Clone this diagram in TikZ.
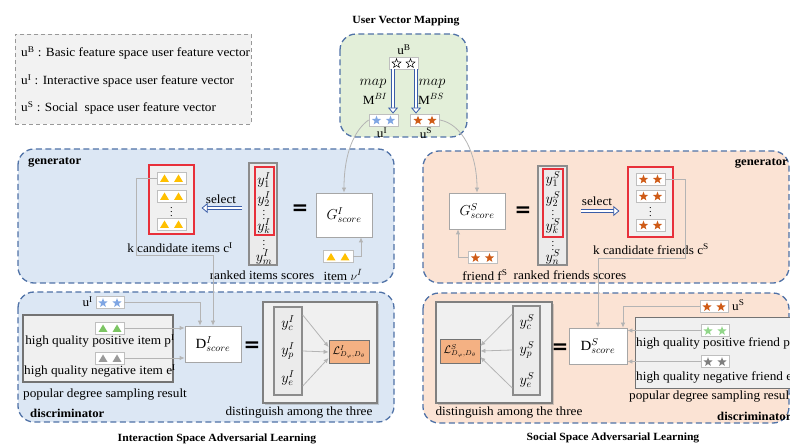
\documentclass[tikz,border=0pt]{standalone}
\usepackage{fontspec}
\setmainfont[FakeStretch=1.06]{Liberation Serif}
\newfontfamily\symfont{DejaVu Sans}
\usetikzlibrary{arrows.meta,calc,shadows}

\definecolor{frameblue}{HTML}{5072A7}
\definecolor{ifill}{HTML}{DCE7F4}
\definecolor{sfill}{HTML}{FBE3D4}
\definecolor{mfill}{HTML}{E3EFD9}
\definecolor{arrowblue}{HTML}{3A5DA8}
\definecolor{candred}{HTML}{E8303A}
\definecolor{starblue}{HTML}{7FA6E3}
\definecolor{starorange}{HTML}{CF5B17}
\definecolor{stargreen}{HTML}{92D68A}
\definecolor{stargray}{HTML}{7F7F7F}
\definecolor{triyellow}{HTML}{FFC000}
\definecolor{trigreen}{HTML}{7CC563}
\definecolor{trigray}{HTML}{9A9A9A}
\definecolor{lossfill}{HTML}{F4B183}
\definecolor{linkgray}{HTML}{B4B4B4}

\tikzset{
  every node/.style={font=\fontsize{12.5}{14}\selectfont, inner sep=0pt},
  region/.style={draw=frameblue, line width=1.3pt, dash pattern=on 6pt off 3.5pt, rounded corners=16pt},
  legendbox/.style={draw=black!40, line width=0.9pt, dash pattern=on 4pt off 3pt, fill=black!5},
  title/.style={font=\fontsize{11}{13}\selectfont\bfseries},
  tag/.style={font=\fontsize{12}{14}\selectfont\bfseries},
  mathlbl/.style={font=\fontsize{14}{16}\selectfont},
  itembox/.style={draw=black!25, fill=white, minimum height=12pt, line width=0.8pt},
  candbox/.style={draw=candred, fill=black!6, line width=1.2pt},
  scorebox/.style={draw=black!45, fill=black!8, line width=1.5pt},
  redbox/.style={draw=candred, line width=1.1pt},
  funcbox/.style={draw=black!35, fill=white, line width=0.8pt, font=\fontsize{14}{16}\selectfont},
  sampbox/.style={draw=black!55, fill=black!6, line width=1.3pt},
  panel/.style={draw=black!50, fill=black!6, line width=1.2pt,
    drop shadow={shadow xshift=2pt, shadow yshift=-2pt, opacity=0.35}},
  lossbox/.style={draw=black!55, fill=lossfill, line width=0.8pt},
  link/.style={draw=linkgray, line width=0.8pt, -{Latex[length=5pt,width=4.5pt]}},
  hollowarrow/.style={draw=arrowblue, double=white, double distance=2.8pt, line width=0.8pt,
    -{Triangle[open,length=6pt,width=10pt,fill=white]}},
  eqsign/.style={font=\symfont\bfseries\fontsize{20}{20}\selectfont},
  dotsfont/.style={font=\fontsize{10}{10}\selectfont},
  starmark/.pic={\path[pic actions] (0,-4.8) -- (1.176,-1.618) -- (4.565,-1.483) -- (1.902,0.618)
      -- (2.821,3.883) -- (0,2) -- (-2.821,3.883) -- (-1.902,0.618) -- (-4.565,-1.483)
      -- (-1.176,-1.618) -- cycle;},
  trimark/.pic={\path[pic actions] (0,-4) -- (4.5,3.5) -- (-4.5,3.5) -- cycle;},
}

% a small white box holding two marks (stars or triangles)
\newcommand\markbox[5]{%
  \node[itembox, minimum width=#3] (#1) at #2 {};
  \pic[#5] at ($(#1.center)+(-7,0.5)$) {#4};
  \pic[#5] at ($(#1.center)+(7,0.5)$) {#4};
}

\begin{document}
\begin{tikzpicture}[x=1pt, y=-1pt]
\useasboundingbox (0,0) rectangle (790,446);

% ---------------- legend ----------------
\node[legendbox, minimum width=236, minimum height=90, anchor=north west] (legend) at (15,34) {};
\node[anchor=west] (lgB) at (21,53) {u\textsuperscript{B} : Basic feature space user feature vector};
\node[anchor=west] (lgI) at (21,81) {u\textsuperscript{I} : Interactive space user feature vector};
\node[anchor=west] (lgS) at (21,108) {u\textsuperscript{S} : Social\ \ space user feature vector};

% ---------------- background regions ----------------
\path[region, fill=mfill] (340,34) rectangle (467,137);
\path[region, fill=ifill] (18,149) rectangle (394,283);
\path[region, fill=ifill] (18,292) rectangle (394,422);
\path[region, fill=sfill] (423,151) rectangle (789,283);
\path[region, fill=sfill] (423,293) rectangle (789,423);

% ---------------- user vector mapping ----------------
\node[title] (tMap) at (406,21) {User Vector Mapping};
\node (lbB) at (404,50) {u\textsuperscript{B}};
\markbox{uB}{(403.5,63)}{29pt}{starmark}{draw=black, line width=0.5pt, fill=white}
\markbox{uI}{(383.5,120)}{29pt}{starmark}{fill=starblue}
\markbox{uS}{(425,120)}{29pt}{starmark}{fill=starorange}
\node (lbI) at (382,133) {u\textsuperscript{I}};
\node (lbS) at (426,133) {u\textsuperscript{S}};
\coordinate (mapL) at ($(uB.south)+(-10.5,0)$);
\coordinate (mapR) at ($(uB.south)+(12.5,0)$);
\draw[hollowarrow] (mapL) -- (mapL |- uI.north);
\draw[hollowarrow] (mapR) -- (mapR |- uS.north);
\node[mathlbl] (mapBI) at (373,84) {$map$};
\node (MBI) at (375,99) {M$^{BI}$};
\node[mathlbl] (mapBS) at (432,84) {$map$};
\node (MBS) at (431,99) {M$^{BS}$};

% ---------------- interaction space: generator ----------------
\node[tag, anchor=west] (genI) at (28,162) {generator};
\node[candbox, minimum width=45, minimum height=69] (candI) at (171.5,199.5) {};
\markbox{ci1}{(171.5,178)}{29pt}{trimark}{fill=triyellow}
\markbox{ci2}{(171.5,196)}{29pt}{trimark}{fill=triyellow}
\node[dotsfont] (ciDots) at (171.5,209) {$\vdots$};
\markbox{ci3}{(171.5,224)}{29pt}{trimark}{fill=triyellow}
\node (lbCI) at (180,248) {k candidate items c\textsuperscript{I}};

\node[scorebox, minimum width=28, minimum height=102] (scI) at (263,214) {};
\node[redbox, minimum width=19, minimum height=68] (rkI) at (264.5,201) {};
\node[mathlbl] (y1I) at (264,180) {$y^{I}_{1}$};
\node[mathlbl] (y2I) at (264,199) {$y^{I}_{2}$};
\node[dotsfont] (ydI) at (264,212) {$\vdots$};
\node[mathlbl] (ykI) at (264,226) {$y^{I}_{k}$};
\node[dotsfont] (ydI2) at (264,242) {$\vdots$};
\node[mathlbl] (ymI) at (264,257) {$y^{I}_{m}$};
\node (lbRI) at (262,275) {ranked items scores};

\node (selI) at (221,199) {select};
\coordinate (selIfrom) at ($(scI.west)+(-6,-6)$);
\draw[hollowarrow, shorten >=7pt] (selIfrom) -- (selIfrom -| candI.east);

\node[eqsign] (eqGI) at (300,210) {=};
\node[funcbox, minimum width=56, minimum height=44] (GI) at (344,215) {$G^{I}_{score}$};
\markbox{vI}{(338,256.5)}{30pt}{trimark}{fill=triyellow}
\node (lbVI) at (343,275) {item $\nu^{I}$};
\draw[link] (vI.east) -| ($(GI.south)+(17,0)$);
\draw[link] (uI.west) .. controls +(-14,10) and +(0,-40) .. (GI.north);

% ---------------- interaction space: discriminator ----------------
\node[tag, anchor=west] (discI) at (30,413) {discriminator};
\markbox{uI2}{(110,302.5)}{28pt}{starmark}{fill=starblue}
\node[anchor=east] (lbUI2) at (93,302) {u\textsuperscript{I}};
\node[sampbox, minimum width=150, minimum height=67] (sampI) at (98,348.5) {};
\markbox{pI}{(110,328)}{29pt}{trimark}{fill=trigreen}
\node (lbPI) at (100,341) {high quality positive item p\textsuperscript{I}};
\markbox{eI}{(110,358)}{29pt}{trimark}{fill=trigray}
\node (lbEI) at (100,371) {high quality negative item e\textsuperscript{I}};
\node (lbSampI) at (105,395) {popular degree sampling result};

\node[funcbox, minimum width=56, minimum height=36] (DI) at (213,344) {D$^{I}_{score}$};
\draw[link] (uI2.east) -| ($(DI.north)+(-13,0)$);
\draw[link] (ci1.west) -| ($(ci1.west)+(-20,77)$) -| (DI.north);
\draw[link] (pI.east) -- (pI.east -| DI.west);
\draw[link] (eI.east) -- (eI.east -| DI.west);

\node[eqsign] (eqDI) at (252,347) {=};
\node[panel, minimum width=114, minimum height=101] (pnI) at (320,352.5) {};
\node[scorebox, minimum width=28, minimum height=88] (trI) at (288,351) {};
\node[mathlbl] (ycI) at (288,323) {$y^{I}_{c}$};
\node[mathlbl] (ypI) at (288,351) {$y^{I}_{p}$};
\node[mathlbl] (yeI) at (288,378) {$y^{I}_{e}$};
\node[lossbox, minimum width=40, minimum height=23] (LI) at (349,352)
  {\fontsize{10.5}{10.5}\selectfont$\mathcal{L}^{I}_{D_\varphi,D_\theta}$};
\draw[link] (trI.east |- ycI.north) -- ($(LI.west)+(0,-5)$);
\draw[link] (trI.east |- ypI) -- (LI.west);
\draw[link] (trI.east |- yeI.south) -- ($(LI.west)+(0,6)$);
\node (lbDisI) at (299,413) {distinguish among the three};

\node[title] (tI) at (217,439) {Interaction Space Adversarial Learning};

% ---------------- social space: generator ----------------
\node[tag, anchor=east] (genS) at (788,163) {generator};
\node[funcbox, minimum width=56, minimum height=36] (GS) at (477,211) {$G^{S}_{score}$};
\markbox{fS}{(482.5,257.5)}{29pt}{starmark}{fill=starorange}
\draw[link] (fS.west) -| ($(GS.south)+(-19,0)$);
\draw[link] (uS.east) .. controls +(22,4) and +(0,-40) .. (GS.north);
\node (lbFS) at (485,275) {friend f\textsuperscript{S}};
\node (lbRS) at (570,275) {ranked friends scores};

\node[eqsign] (eqGS) at (523,212) {=};
\node[scorebox, minimum width=29, minimum height=99] (scS) at (552.5,215.5) {};
\node[redbox, minimum width=20, minimum height=68] (rkS) at (553,203) {};
\node[mathlbl] (y1S) at (553,179) {$y^{S}_{1}$};
\node[mathlbl] (y2S) at (553,199) {$y^{S}_{2}$};
\node[dotsfont] (ydS) at (553,212) {$\vdots$};
\node[mathlbl] (ykS) at (553,226) {$y^{S}_{k}$};
\node[dotsfont] (ydS2) at (553,243) {$\vdots$};
\node[mathlbl] (ynS) at (553,257) {$y^{S}_{n}$};

\node (selS) at (597,201) {select};
\coordinate (selSfrom) at ($(scS.east)+(13,-4.5)$);
\node[candbox, minimum width=45, minimum height=70] (candS) at (650.5,202) {};
\draw[hollowarrow, shorten >=8pt] (selSfrom) -- (selSfrom -| candS.west);
\markbox{cs1}{(650.5,179)}{29pt}{starmark}{fill=starorange}
\markbox{cs2}{(650.5,196)}{29pt}{starmark}{fill=starorange}
\node[dotsfont] (csDots) at (650.5,209) {$\vdots$};
\markbox{cs3}{(650.5,225)}{29pt}{starmark}{fill=starorange}
\node (lbCS) at (651,249) {k candidate friends c\textsuperscript{S}};

% ---------------- social space: discriminator ----------------
\node[funcbox, minimum width=58, minimum height=36] (DS) at (598,346) {D$^{S}_{score}$};
\draw[link] (cs1.east) -| ($(cs1.east)+(20,79)$) -| (DS.north);
\markbox{uS2}{(714,306.5)}{28pt}{starmark}{fill=starorange}
\node[anchor=west] (lbUS2) at (732,305) {u\textsuperscript{S}};
\draw[link] (uS2.west) -| ($(DS.north)+(25,0)$);
\node[sampbox, minimum width=170, minimum height=71, anchor=north west] (sampS) at (635,317) {};
\markbox{pS}{(715,330.5)}{28pt}{starmark}{fill=stargreen}
\node[anchor=west] (lbPS) at (636,343) {high quality positive friend p\textsuperscript{S}};
\markbox{eS}{(715,361.5)}{28pt}{starmark}{fill=stargray}
\node[anchor=west] (lbES) at (636,377) {high quality negative friend e\textsuperscript{S}};
\node[anchor=west] (lbSampS) at (629,397) {popular degree sampling result};
\node[tag, anchor=west] (discS) at (717,416) {discriminator};
\draw[link] (pS.west) -- (pS.west -| DS.east);
\draw[link] (eS.west) -- (eS.west -| DS.east);

\node[eqsign] (eqDS) at (560,349) {=};
\node[panel, minimum width=116, minimum height=101] (pnS) at (494,352.5) {};
\node[scorebox, minimum width=27, minimum height=89] (trS) at (526.5,350.5) {};
\node[mathlbl] (ycS) at (527,322) {$y^{S}_{c}$};
\node[mathlbl] (ypS) at (527,350) {$y^{S}_{p}$};
\node[mathlbl] (yeS) at (527,380) {$y^{S}_{e}$};
\node[lossbox, minimum width=40, minimum height=24] (LS) at (460,351)
  {\fontsize{10.5}{10.5}\selectfont$\mathcal{L}^{S}_{D_\varphi,D_\theta}$};
\draw[link] (trS.west |- ycS.north) -- ($(LS.east)+(0,-5)$);
\draw[link] (trS.west |- ypS) -- (LS.east);
\draw[link] (trS.west |- yeS.south) -- ($(LS.east)+(0,6)$);
\node (lbDisS) at (509,413) {distinguish among the three};

\node[title] (tS) at (613,438) {Social Space Adversarial Learning};
\end{tikzpicture}
\end{document}
